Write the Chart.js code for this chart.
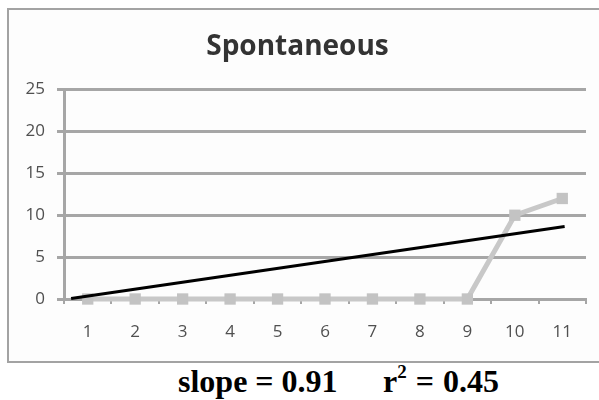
<!DOCTYPE html>
<html>
<head>
<meta charset="utf-8">
<script src="https://cdn.jsdelivr.net/npm/chart.js@4"></script>
<style>
  body { margin: 0; background: #fff; width: 599px; height: 400px; overflow: hidden; position: relative; }
  #box {
    position: absolute; left: 7px; top: 8px; width: 600px; height: 351px;
    border: 2px solid #a3a3a3; background: #fdfdfd;
  }
  #box canvas { display: block; }
  .stat {
    position: absolute; top: 365px;
    font: bold 32px "Liberation Serif", "Times New Roman", serif; line-height: 32px; color: #000;
    white-space: pre;
  }
  .stat sup { font-size: 19px; vertical-align: 14px; line-height: 0; }
</style>
</head>
<body>
<div id="box"><canvas id="chart" width="590" height="351"></canvas></div>
<div class="stat" style="left:178px">slope = 0.91</div>
<div class="stat" style="left:383px; word-spacing:1px">r<sup>2</sup> = 0.45</div>
<script>
// sessions
const sessions = ['1', '2', '3', '4', '5', '6', '7', '8', '9', '10', '11'];
// spontaneous responses per session
const spontaneous = [0, 0, 0, 0, 0, 0, 0, 0, 0, 10, 12];
// trend line end points (x as category index, as drawn in the picture)
const trendX = [-0.35, 10.05];
const trendY = [0.05, 8.65];
const yTicks = [0, 5, 10, 15, 20, 25];

const grey = '#a6a6a6';

Chart.defaults.font.family = 'Open Sans';
Chart.defaults.font.size = 17;

let ctx = document.getElementById('chart').getContext('2d');

let chart = new Chart(ctx, {
    type: 'line',
    data: {
        labels: sessions,
        datasets: [{
            label: 'Spontaneous',
            data: spontaneous,
            borderColor: '#c8c8c8',
            backgroundColor: '#c3c3c3',
            borderWidth: 5,
            pointStyle: 'rect',
            pointRadius: 8,
            pointBorderWidth: 0,
            tension: 0,
            clip: false,
            order: 2
        }, {
            label: 'Trend',
            data: trendX.map((x, i) => ({ x: x, y: trendY[i] })),
            xAxisID: 'xt',
            borderColor: '#000',
            borderWidth: 3,
            pointRadius: 0,
            clip: false,
            order: 1
        }]
    },
    options: {
        responsive: false,
        animation: false,
        layout: { padding: { left: 0, right: 13, top: 0, bottom: 0 } },
        plugins: {
            legend: { display: false },
            tooltip: { enabled: false },
            title: {
                display: true,
                text: 'Spontaneous',
                color: '#333',
                font: { size: 28, weight: 'bold' },
                padding: { top: 20, bottom: 26 }
            }
        },
        scales: {
            x: {
                offset: true,
                grid: { display: true, drawOnChartArea: false, offset: true, color: grey, lineWidth: 2, tickLength: 5 },
                border: { display: true, color: grey, width: 3 },
                ticks: { color: '#505050', font: { size: 17 }, padding: 18, maxRotation: 0 },
                afterFit: s => { s.height = 62; }
            },
            xt: {
                type: 'linear',
                display: false,
                min: -0.5,
                max: 10.5
            },
            y: {
                min: 0,
                max: 25,
                afterBuildTicks: s => { s.ticks = yTicks.map(v => ({ value: v })); },
                grid: { color: grey, lineWidth: 3, tickLength: 7 },
                border: { display: true, color: grey, width: 3 },
                ticks: { color: '#505050', font: { size: 17 }, padding: 12 },
                afterFit: s => { s.width = 55; }
            }
        }
    }
});
</script>
</body>
</html>
